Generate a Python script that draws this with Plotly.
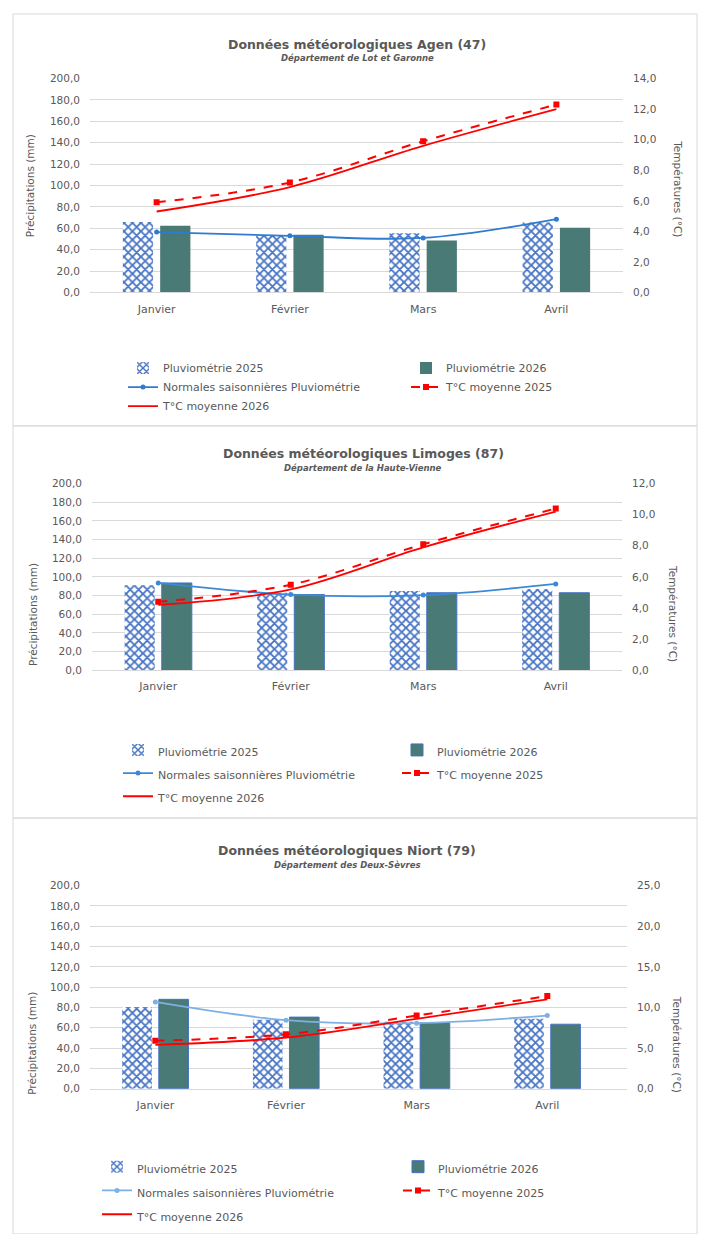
import plotly.graph_objects as go

W, H = 702, 1234

months = ["Janvier", "Février", "Mars", "Avril"]

# Agen (47)
agen_pluvio_2025 = [66.0, 53.0, 55.5, 65.5]
agen_pluvio_2026 = [62.5, 54.0, 48.5, 60.5]
agen_normales = [56.5, 53.0, 51.0, 68.5]
agen_temp_2025 = [5.9, 7.2, 9.9, 12.3]
agen_temp_2026 = [5.3, 6.9, 9.6, 12.0]

# Limoges (87)
limoges_pluvio_2025 = [91.0, 83.0, 85.0, 87.0]
limoges_pluvio_2026 = [93.5, 81.0, 83.0, 83.0]
limoges_normales = [93.5, 81.0, 80.5, 92.5]
limoges_temp_2025 = [4.4, 5.5, 8.1, 10.4]
limoges_temp_2026 = [4.2, 5.2, 7.9, 10.2]

# Niort (79)
niort_pluvio_2025 = [80.5, 68.0, 66.0, 69.0]
niort_pluvio_2026 = [88.0, 70.5, 65.0, 63.5]
niort_normales = [85.5, 67.5, 64.5, 72.0]
niort_temp_2025 = [5.9, 6.7, 9.0, 11.4]
niort_temp_2026 = [5.4, 6.3, 8.6, 11.0]

titles = ["Données météorologiques Agen (47)",
          "Données météorologiques Limoges (87)",
          "Données météorologiques Niort (79)"]
subtitles = ["Département de Lot et Garonne",
             "Département de la Haute-Vienne",
             "Département des Deux-Sèvres"]
left_title = "Précipitations (mm)"
right_title = "Températures (°C)"
legend_names = ["Pluviométrie 2025", "Pluviométrie 2026",
                "Normales saisonnières Pluviométrie",
                "T°C moyenne 2025", "T°C moyenne 2026"]

FONT = "DejaVu Sans"
GREY = "#595959"
GRID = "#d9d9d9"
HATCH = "#4472C4"
BAR26 = "#497A75"
RED = "#FF0000"


def fx(px):
    return px / W


def fy(py):
    return 1 - py / H


charts = [
    dict(p25=agen_pluvio_2025, p26=agen_pluvio_2026, nor=agen_normales,
         t25=agen_temp_2025, t26=agen_temp_2026,
         xdom=(90, 623), ydom=(73.3, 289.3), xr=[-0.5, 3.5], tr=[0, 14], tdt=2,
         title_xy=(357, 39), sub_y=53, lt=(30, 182), rt=(678, 184),
         nor_color="#2E7BCF", bar_line=0,
         leg=dict(x=123, y=351, ew=238, fs=11)),
    dict(p25=limoges_pluvio_2025, p26=limoges_pluvio_2026, nor=limoges_normales,
         t25=limoges_temp_2025, t26=limoges_temp_2026,
         xdom=(92, 622), ydom=(482.3, 670.7), xr=[-0.5, 3.5], tr=[0, 12], tdt=2,
         title_xy=(363, 452), sub_y=467, lt=(33, 615), rt=(673, 613),
         nor_color="#3C8AD6", bar_line=1,
         leg=dict(x=118, y=734.5, ew=234, fs=15.5)),
    dict(p25=niort_pluvio_2025, p26=niort_pluvio_2026, nor=niort_normales,
         t25=niort_temp_2025, t26=niort_temp_2026,
         xdom=(90, 627), ydom=(888.3, 1093.3), xr=[-0.5, 3.61], tr=[0, 25], tdt=5,
         title_xy=(347, 853), sub_y=867, lt=(32, 1048), rt=(677, 1048),
         nor_color="#7EB0E3", bar_line=1,
         leg=dict(x=97, y=1155, ew=256, fs=16)),
]

fig = go.Figure()
layout = dict(
    width=W, height=H, margin=dict(l=0, r=0, t=0, b=0),
    paper_bgcolor="white", plot_bgcolor="white",
    separators=", ", barmode="group", bargap=0.44, bargroupgap=0.19,
    font=dict(family=FONT, color=GREY, size=11),
    annotations=[], shapes=[],
)

for i, c in enumerate(charts):
    n = i + 1
    xa = "x" if n == 1 else f"x{n}"
    yl_idx = 2 * i + 1
    yr_idx = 2 * i + 2
    yl = "y" if yl_idx == 1 else f"y{yl_idx}"
    yr = f"y{yr_idx}"
    leg = "legend" if n == 1 else f"legend{n}"
    span = (lambda s: s) if n == 1 else (lambda s: f'<span style="font-size:11px">{s}</span>')

    fig.add_trace(go.Bar(
        x=months, y=c["p25"], name=span(legend_names[0]), xaxis=xa, yaxis=yl, legend=leg,
        marker=dict(color="white",
                    pattern=dict(shape="x", fgcolor=HATCH, bgcolor="white", size=6,
                                 solidity=0.5, fgopacity=1),
                    line=dict(width=0)),
    ))
    fig.add_trace(go.Bar(
        x=months, y=c["p26"], name=span(legend_names[1]), xaxis=xa, yaxis=yl, legend=leg,
        marker=dict(color=BAR26, line=dict(width=c["bar_line"], color="#4472C4")),
    ))
    fig.add_trace(go.Scatter(
        x=months, y=c["nor"], name=span(legend_names[2]), xaxis=xa, yaxis=yl, legend=leg,
        mode="lines+markers", line=dict(color=c["nor_color"], width=1.8, shape="spline"),
        marker=dict(size=5, color=c["nor_color"]),
    ))
    fig.add_trace(go.Scatter(
        x=months, y=c["t25"], name=span(legend_names[3]), xaxis=xa, yaxis=yr, legend=leg,
        mode="lines+markers", line=dict(color=RED, width=2, dash="dash", shape="spline"),
        marker=dict(size=6, color=RED, symbol="square"),
    ))
    fig.add_trace(go.Scatter(
        x=months, y=c["t26"], name=span(legend_names[4]), xaxis=xa, yaxis=yr, legend=leg,
        mode="lines", line=dict(color=RED, width=1.8, shape="spline"),
    ))

    xdom = [fx(c["xdom"][0]), fx(c["xdom"][1])]
    ydom = [fy(c["ydom"][1]), fy(c["ydom"][0])]
    xkey = "xaxis" if n == 1 else f"xaxis{n}"
    ylkey = "yaxis" if yl_idx == 1 else f"yaxis{yl_idx}"
    yrkey = f"yaxis{yr_idx}"
    layout[xkey] = dict(domain=xdom, anchor=yl, range=c["xr"], type="category",
                        showgrid=False, showline=True, linecolor=GRID, linewidth=1,
                        ticks="", ticklabelstandoff=6, tickfont=dict(size=11, color=GREY),
                        fixedrange=True)
    layout[ylkey] = dict(domain=ydom, anchor=xa, range=[0, 200], dtick=20, tick0=0,
                         tickformat=".1f", showgrid=True, gridcolor=GRID, gridwidth=1,
                         zeroline=False, showline=False, ticks="",
                         ticklabelstandoff=9, tickfont=dict(size=10.5, color=GREY),
                         fixedrange=True)
    layout[yrkey] = dict(overlaying=yl, side="right", anchor=xa, range=c["tr"],
                         dtick=c["tdt"], tick0=0, tickformat=".1f", showgrid=False,
                         zeroline=False, showline=False, ticks="",
                         ticklabelstandoff=9, tickfont=dict(size=10.5, color=GREY),
                         fixedrange=True)
    lg = c["leg"]
    layout[leg] = dict(x=fx(lg["x"]), y=fy(lg["y"]), xanchor="left", yanchor="top",
                       orientation="h", entrywidth=lg["ew"], entrywidthmode="pixels",
                       bgcolor="rgba(0,0,0,0)", borderwidth=0,
                       font=dict(family=FONT, size=lg["fs"], color=GREY),
                       itemclick=False, itemdoubleclick=False)

    tx, ty = c["title_xy"]
    layout["annotations"].append(dict(
        x=fx(tx), y=fy(ty), xref="paper", yref="paper", showarrow=False,
        text=f"<b>{titles[i]}</b>", font=dict(family=FONT, size=12.5, color=GREY),
        xanchor="center", yanchor="middle"))
    layout["annotations"].append(dict(
        x=fx(tx), y=fy(c["sub_y"]), xref="paper", yref="paper", showarrow=False,
        text=f"<b><i>{subtitles[i]}</i></b>", font=dict(family=FONT, size=8.5, color=GREY),
        xanchor="center", yanchor="middle"))
    layout["annotations"].append(dict(
        x=fx(c["lt"][0]), y=fy(c["lt"][1]), xref="paper", yref="paper", showarrow=False,
        text=left_title, textangle=-90, font=dict(family=FONT, size=10.5, color=GREY),
        xanchor="center", yanchor="middle"))
    layout["annotations"].append(dict(
        x=fx(c["rt"][0]), y=fy(c["rt"][1]), xref="paper", yref="paper", showarrow=False,
        text=right_title, textangle=90, font=dict(family=FONT, size=10.5, color=GREY),
        xanchor="center", yanchor="middle"))

# chart frames
for (y0, y1) in [(8, 424), (424, 820), (820, 1240)]:
    layout["shapes"].append(dict(type="rect", xref="paper", yref="paper",
                                 x0=fx(13), x1=fx(697), y0=fy(y1), y1=fy(y0),
                                 line=dict(color=GRID, width=1), fillcolor="rgba(0,0,0,0)",
                                 layer="below"))

fig.update_layout(**layout)

fig.write_html("out.html", config={"displayModeBar": False},
               post_script="document.body.style.margin='0';document.body.style.overflow='hidden';")
